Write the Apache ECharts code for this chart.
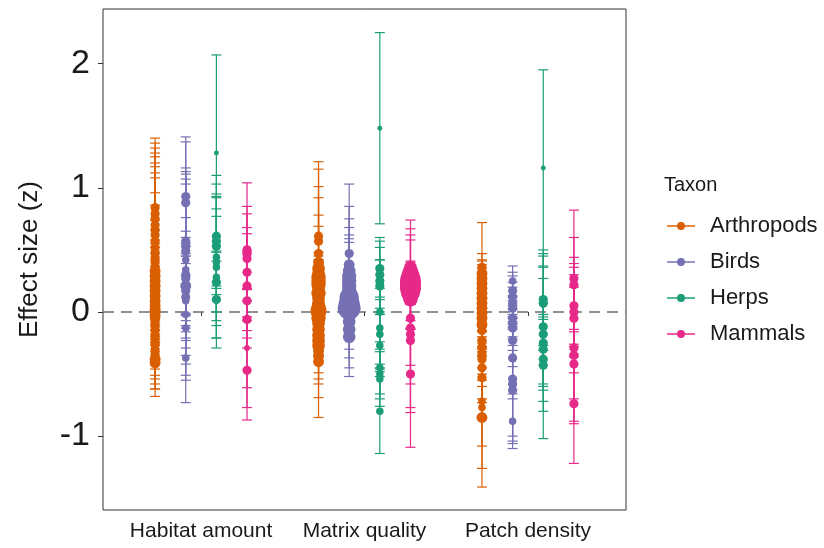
<!DOCTYPE html>
<html>
<head>
<meta charset="utf-8">
<script src="https://cdn.jsdelivr.net/npm/echarts@6/dist/echarts.min.js"></script>
<style>
html,body{margin:0;padding:0;background:#fff;}
#chart{width:824px;height:548px;}
</style>
</head>
<body>
<div id="chart"></div>
<script>
// ---------- data ----------
const categories = ['Habitat amount', 'Matrix quality', 'Patch density'];
const taxa = ['Arthropods', 'Birds', 'Herps', 'Mammals'];
const yTicks = [-1, 0, 1, 2];

// each row: [effect size z, lower CI, upper CI, weight]
const arthropodsHabitat = [
  [0.84, 0.30, 1.40, 4], [0.79, 0.22, 1.36, 4], [0.75, 0.18, 1.32, 4], [0.70, 0.12, 1.28, 4],
  [0.66, 0.07, 1.25, 4], [0.62, 0.04, 1.20, 4], [0.57, -0.03, 1.17, 4], [0.52, -0.06, 1.12, 4],
  [0.48, -0.10, 1.08, 4], [0.44, -0.08, 0.96, 4], [0.40, -0.05, 0.86, 4], [0.36, -0.02, 0.74, 4],
  [0.33, 0.02, 0.66, 5], [0.29, 0.00, 0.58, 5], [0.25, -0.05, 0.55, 5], [0.21, -0.10, 0.52, 5],
  [0.17, -0.12, 0.47, 5], [0.13, -0.15, 0.42, 5], [0.09, -0.18, 0.37, 5], [0.05, -0.20, 0.30, 5],
  [0.02, -0.22, 0.26, 5], [0.00, -0.25, 0.25, 5], [-0.03, -0.27, 0.21, 5], [-0.07, -0.32, 0.18, 4],
  [-0.11, -0.37, 0.15, 4], [-0.15, -0.40, 0.10, 4], [-0.19, -0.46, 0.06, 4], [-0.22, -0.51, 0.07, 4],
  [-0.26, -0.54, 0.02, 4], [-0.30, -0.62, 0.02, 4], [-0.34, -0.68, 0.00, 4], [-0.38, -0.62, -0.14, 5],
  [-0.41, -0.58, -0.24, 5]
];
const arthropodsMatrix = [
  [0.61, 0.01, 1.21, 4], [0.57, -0.01, 1.15, 4], [0.47, -0.07, 1.01, 4], [0.40, -0.12, 0.92, 5],
  [0.35, -0.08, 0.78, 6], [0.31, -0.07, 0.69, 6], [0.28, 0.08, 0.48, 7], [0.25, 0.05, 0.45, 7],
  [0.22, 0.02, 0.42, 7], [0.19, 0.00, 0.38, 6], [0.15, -0.05, 0.35, 7], [0.11, -0.08, 0.30, 6],
  [0.07, -0.10, 0.24, 6], [0.04, -0.12, 0.20, 7], [0.01, -0.14, 0.16, 8], [-0.02, -0.17, 0.13, 7],
  [-0.05, -0.20, 0.10, 7], [-0.09, -0.25, 0.07, 6], [-0.14, -0.30, 0.02, 6], [-0.19, -0.36, -0.02, 6],
  [-0.23, -0.49, 0.03, 6], [-0.27, -0.54, 0.00, 6], [-0.31, -0.58, -0.04, 5], [-0.35, -0.69, -0.01, 5],
  [-0.40, -0.85, 0.05, 5]
];
const arthropodsPatch = [
  [0.36, 0.00, 0.72, 4], [0.31, 0.15, 0.47, 5], [0.27, 0.12, 0.42, 5], [0.23, 0.05, 0.41, 5],
  [0.19, 0.00, 0.38, 5], [0.15, -0.05, 0.35, 5], [0.11, -0.08, 0.30, 5], [0.07, -0.12, 0.26, 5],
  [0.03, -0.15, 0.21, 5], [-0.01, -0.20, 0.18, 5], [-0.05, -0.25, 0.15, 5], [-0.10, -0.30, 0.10, 5],
  [-0.15, -0.35, 0.05, 4], [-0.23, -0.45, -0.01, 4], [-0.28, -0.50, -0.06, 4], [-0.33, -0.55, -0.11, 4],
  [-0.38, -0.60, -0.16, 4], [-0.45, -0.70, -0.23, 4], [-0.53, -0.73, -0.32, 4], [-0.72, -1.08, -0.36, 3],
  [-0.77, -1.26, -0.28, 3], [-0.85, -1.41, -0.29, 5]
];
const birdsHabitat = [
  [0.93, 0.45, 1.41, 4], [0.88, 0.39, 1.37, 4], [0.57, -0.02, 1.16, 4], [0.53, -0.07, 1.13, 4],
  [0.49, -0.13, 1.11, 4], [0.42, -0.23, 1.07, 3], [0.34, -0.35, 1.03, 3], [0.30, -0.16, 0.76, 4],
  [0.27, -0.11, 0.65, 4], [0.21, -0.03, 0.45, 5], [0.17, -0.21, 0.55, 4], [0.12, -0.29, 0.53, 4],
  [0.09, -0.42, 0.60, 3], [-0.02, -0.51, 0.47, 3], [-0.13, -0.55, 0.29, 3], [-0.37, -0.73, -0.01, 3]
];
const birdsMatrix = [
  [0.47, -0.09, 1.03, 4], [0.38, -0.09, 0.85, 5], [0.33, -0.09, 0.75, 6], [0.29, -0.10, 0.68, 7],
  [0.25, -0.12, 0.62, 7], [0.21, -0.17, 0.59, 7], [0.17, -0.22, 0.56, 7], [0.12, 0.00, 0.24, 10],
  [0.07, -0.05, 0.19, 11], [0.03, -0.08, 0.14, 12], [-0.02, -0.30, 0.26, 7], [-0.08, -0.37, 0.21, 6],
  [-0.14, -0.45, 0.17, 6], [-0.20, -0.52, 0.12, 6]
];
const birdsPatch = [
  [0.25, 0.13, 0.37, 3], [0.17, 0.02, 0.32, 4], [0.12, -0.05, 0.29, 4], [0.07, -0.10, 0.24, 4],
  [0.03, -0.14, 0.20, 4], [-0.05, -0.22, 0.12, 4], [-0.09, -0.27, 0.09, 4], [-0.13, -0.31, 0.05, 4],
  [-0.23, -0.44, -0.02, 4], [-0.37, -0.70, -0.04, 4], [-0.54, -1.00, -0.08, 4], [-0.58, -1.04, -0.12, 4],
  [-0.63, -1.06, -0.20, 4], [-0.88, -1.10, -0.66, 3]
];
const herpsHabitat = [
  [1.28, 0.49, 2.07, 1.5], [0.61, 0.19, 1.03, 4], [0.57, 0.21, 0.93, 4], [0.53, 0.14, 0.92, 4],
  [0.44, -0.07, 0.95, 3], [0.40, -0.29, 1.10, 3], [0.36, -0.11, 0.83, 3], [0.28, -0.21, 0.77, 3],
  [0.24, 0.00, 0.48, 4], [0.10, -0.21, 0.41, 4]
];
const herpsMatrix = [
  [1.48, 0.71, 2.25, 1.5], [0.35, 0.10, 0.60, 4], [0.30, 0.03, 0.57, 4], [0.25, -0.02, 0.52, 4],
  [0.21, 0.00, 0.42, 4], [0.00, -0.42, 0.42, 3], [-0.13, -0.45, 0.19, 3], [-0.18, -0.48, 0.12, 3],
  [-0.27, -0.52, -0.02, 3], [-0.45, -0.66, -0.24, 3], [-0.50, -0.70, -0.30, 3], [-0.54, -0.76, -0.32, 3],
  [-0.80, -1.14, -0.46, 3]
];
const herpsPatch = [
  [1.16, 0.37, 1.95, 1.5], [0.10, -0.27, 0.47, 4], [0.07, -0.31, 0.45, 4], [-0.12, -0.60, 0.36, 4],
  [-0.18, -0.63, 0.27, 4], [-0.25, -1.02, 0.50, 4], [-0.30, -0.58, -0.02, 4], [-0.38, -0.72, -0.04, 4],
  [-0.43, -0.80, -0.06, 4]
];
const mammalsHabitat = [
  [0.50, -0.04, 1.04, 4], [0.47, 0.09, 0.85, 4], [0.43, 0.18, 0.68, 4], [0.32, -0.15, 0.79, 4],
  [0.21, -0.21, 0.63, 4], [0.09, -0.29, 0.47, 4], [-0.06, -0.61, 0.49, 4], [-0.29, -0.77, 0.19, 2],
  [-0.47, -0.87, -0.07, 4]
];
const mammalsMatrix = [
  [0.36, 0.10, 0.62, 6], [0.32, 0.06, 0.58, 8], [0.30, -0.14, 0.74, 5], [0.27, -0.13, 0.67, 5],
  [0.28, 0.16, 0.40, 10], [0.25, 0.14, 0.36, 11], [0.22, 0.12, 0.32, 11], [0.19, 0.09, 0.29, 11],
  [0.16, 0.06, 0.26, 10], [0.13, -0.07, 0.33, 8], [0.10, -0.14, 0.34, 7], [-0.05, -0.43, 0.33, 4],
  [-0.13, -0.58, 0.32, 4], [-0.18, -0.77, 0.41, 4], [-0.23, -0.81, 0.35, 4], [-0.50, -1.09, 0.09, 4]
];
const mammalsPatch = [
  [0.27, -0.28, 0.82, 4], [0.22, -0.16, 0.60, 4], [0.05, -0.34, 0.44, 4], [0.00, -0.36, 0.36, 4],
  [-0.05, -0.49, 0.39, 4], [-0.29, -0.88, 0.30, 4], [-0.35, -0.90, 0.20, 4], [-0.42, -0.70, -0.14, 4],
  [-0.74, -1.22, -0.26, 4]
];

// ---------- build ----------
const byTaxon = [
  [arthropodsHabitat, arthropodsMatrix, arthropodsPatch],
  [birdsHabitat, birdsMatrix, birdsPatch],
  [herpsHabitat, herpsMatrix, herpsPatch],
  [mammalsHabitat, mammalsMatrix, mammalsPatch]
];
const colors = ['#D95F02', '#7570B3', '#1B9E77', '#E7298A'];
const dodge = [-0.28125, -0.09375, 0.09375, 0.28125];

function renderItem(params, api) {
  const x = api.value(0);
  const pZ = api.coord([x, api.value(1)]);
  const pLo = api.coord([x, api.value(2)]);
  const pHi = api.coord([x, api.value(3)]);
  const r = 1.2 + 0.85 * api.value(4);
  const color = api.visual('color');
  const cw = 5;
  const st = { stroke: color, lineWidth: 1.2, fill: null };
  return {
    type: 'group',
    children: [
      { type: 'line', shape: { x1: pLo[0], y1: pLo[1], x2: pHi[0], y2: pHi[1] }, style: st },
      { type: 'line', shape: { x1: pLo[0] - cw, y1: pLo[1], x2: pLo[0] + cw, y2: pLo[1] }, style: st },
      { type: 'line', shape: { x1: pHi[0] - cw, y1: pHi[1], x2: pHi[0] + cw, y2: pHi[1] }, style: st },
      { type: 'circle', shape: { cx: pZ[0], cy: pZ[1], r: r }, style: { fill: color } }
    ]
  };
}

const series = [{
  type: 'line',
  name: 'zero',
  data: [[0.4, 0], [3.6, 0]],
  symbol: 'none',
  silent: true,
  z: 1,
  lineStyle: { color: '#6e6e6e', width: 1.5, type: [11, 7] }
}];
taxa.forEach((t, ti) => {
  const data = [];
  byTaxon[ti].forEach((rows, ci) => {
    rows.forEach(r => data.push([ci + 1 + dodge[ti], r[0], r[1], r[2], r[3]]));
  });
  series.push({
    type: 'custom',
    name: t,
    data: data,
    z: 2,
    itemStyle: { color: colors[ti] },
    encode: { x: 0, y: [1, 2, 3] },
    renderItem: renderItem
  });
});

const chart = echarts.init(document.getElementById('chart'));
chart.setOption({
  animation: false,
  backgroundColor: '#fff',
  textStyle: { fontFamily: 'Liberation Sans, Arial, sans-serif' },
  grid: { left: 103, right: 198, top: 9, bottom: 38, show: true, borderColor: '#333', borderWidth: 1, backgroundColor: 'transparent' },
  title: {
    text: 'Taxon', left: 659, top: 170,
    textStyle: { fontSize: 20, fontWeight: 'normal', color: '#1a1a1a', fontFamily: 'Liberation Sans, Arial, sans-serif' }
  },
  legend: {
    data: taxa,
    orient: 'vertical',
    left: 662, top: 210,
    itemWidth: 28, itemHeight: 8,
    itemGap: 14,
    icon: 'path://M0,4.3H28V5.7H0Z M14,1A4,4 0 1,1 14,9A4,4 0 1,1 14,1Z',
    textStyle: { fontSize: 22, color: '#1a1a1a', lineHeight: 22, padding: [0, 0, 0, 10] }
  },
  xAxis: {
    type: 'value', min: 0.4, max: 3.6,
    axisLine: { show: false },
    splitLine: { show: false },
    axisTick: { show: true, length: 4, customValues: [1, 2, 3], lineStyle: { color: '#333' } },
    axisLabel: {
      customValues: [1, 2, 3], margin: 11, fontSize: 21, color: '#1a1a1a',
      formatter: v => categories[Math.round(v) - 1]
    }
  },
  yAxis: {
    type: 'value', min: -1.595, max: 2.44,
    name: 'Effect size (z)', nameLocation: 'middle', nameRotate: 90, nameGap: 60,
    nameTextStyle: { fontSize: 26, color: '#1a1a1a' },
    axisLine: { show: false },
    splitLine: { show: false },
    axisTick: { show: true, length: 5, customValues: yTicks, lineStyle: { color: '#333' } },
    axisLabel: { customValues: yTicks, margin: 13, fontSize: 34, color: '#1a1a1a' }
  },
  series: series
});
</script>
</body>
</html>
